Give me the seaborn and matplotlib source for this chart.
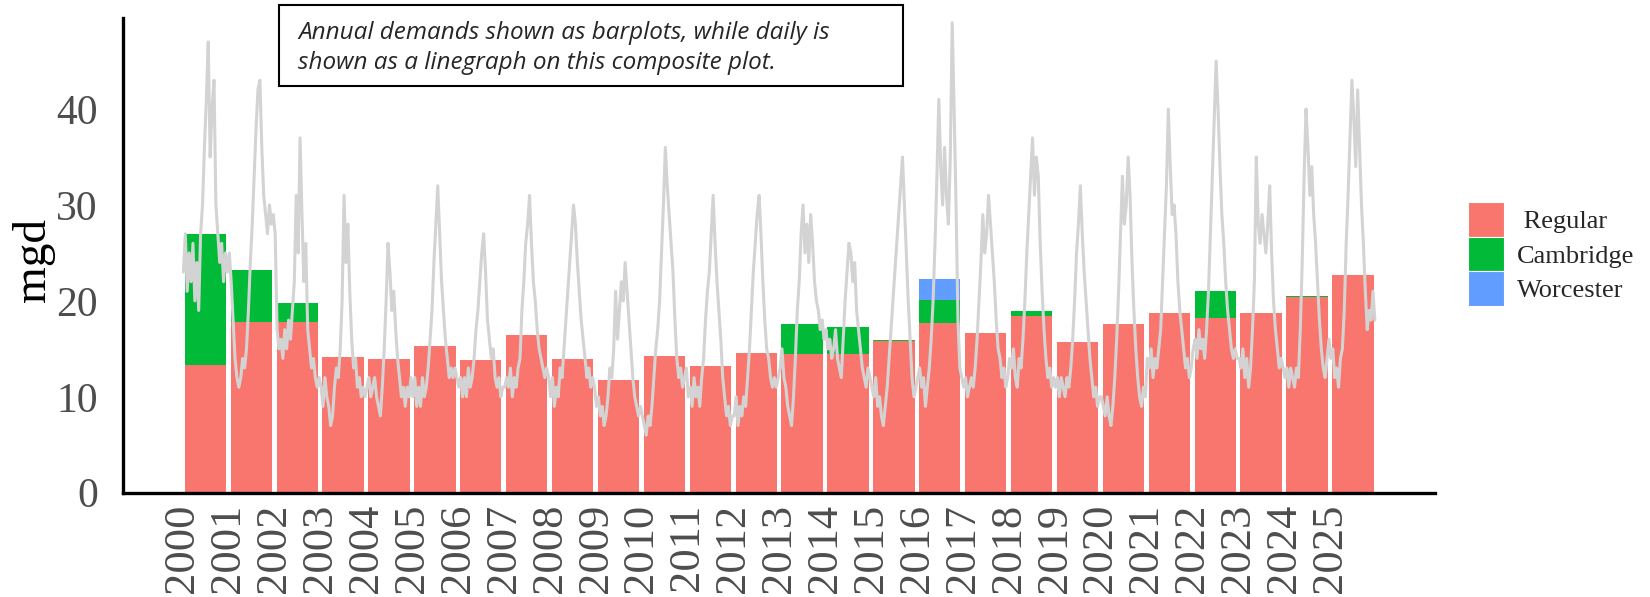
import matplotlib
matplotlib.use("Agg")
import matplotlib.pyplot as plt
import numpy as np
import pandas as pd
import seaborn as sns
from matplotlib.patches import Patch, Rectangle

# --annual demands (mgd), stacked by source
years = list(range(2000, 2026))
regular = [13.3, 17.8, 17.8, 14.1, 13.9, 15.3, 13.8, 16.4, 13.9, 11.8, 14.3, 13.2, 14.6,
           14.5, 14.5, 15.8, 17.7, 16.6, 18.4, 15.75, 17.55, 18.7, 18.25, 18.7, 20.4, 22.7]
cambridge = [13.7, 5.4, 1.95, 0, 0, 0, 0, 0, 0, 0, 0, 0, 0,
             3.05, 2.75, 0.1, 2.35, 0, 0.5, 0, 0, 0, 2.8, 0, 0.15, 0]
worcester = [0, 0, 0, 0, 0, 0, 0, 0, 0, 0, 0, 0, 0,
             0, 0, 0, 2.2, 0, 0, 0, 0, 0, 0, 0, 0, 0]
sources = [" Regular", "Cambridge", "Worcester"]

# --daily demand (mgd), 24 readings per year
d2000 = [23, 27, 21, 25, 22, 26, 20, 24, 19, 27, 30, 36, 41, 47, 35, 40, 43, 30, 27, 24, 26, 22, 25, 23]
d2001 = [25, 22, 18, 14, 12, 11, 12, 14, 13, 15, 19, 24, 28, 33, 38, 42, 43, 36, 31, 29, 27, 30, 28, 29]
d2002 = [27, 17, 15, 16, 14, 17, 15, 18, 16, 19, 22, 31, 25, 37, 29, 22, 26, 17, 15, 13, 14, 12, 11, 12]
d2003 = [11, 9, 12, 10, 9, 7, 8, 11, 13, 12, 15, 20, 31, 24, 28, 21, 16, 13, 14, 11, 12, 10, 11, 10]
d2004 = [11, 12, 10, 11, 12, 10, 9, 8, 11, 15, 20, 26, 23, 19, 21, 17, 14, 12, 10, 11, 9, 11, 10, 12]
d2005 = [10, 12, 9, 11, 9, 12, 10, 11, 13, 16, 19, 24, 28, 32, 27, 22, 19, 16, 14, 12, 13, 12, 13, 12]
d2006 = [11, 12, 10, 12, 10, 13, 11, 12, 14, 17, 19, 22, 25, 27, 23, 18, 16, 14, 15, 12, 11, 12, 10, 11]
d2007 = [11, 12, 11, 13, 10, 12, 11, 13, 14, 19, 22, 26, 28, 31, 26, 22, 20, 17, 15, 14, 13, 12, 13, 12]
d2008 = [10, 12, 9, 11, 10, 13, 12, 15, 18, 21, 24, 27, 30, 28, 24, 21, 18, 16, 14, 12, 13, 11, 12, 11]
d2009 = [9, 10, 8, 9, 7, 8, 10, 13, 12, 15, 21, 16, 19, 22, 20, 24, 21, 18, 15, 12, 10, 9, 8, 9]
d2010 = [8, 7, 6, 8, 7, 9, 12, 15, 17, 20, 25, 30, 36, 32, 29, 26, 23, 18, 14, 12, 13, 11, 12, 13]
d2011 = [10, 11, 9, 12, 10, 11, 9, 12, 14, 18, 21, 23, 27, 31, 26, 22, 19, 16, 12, 10, 8, 9, 7, 8]
d2012 = [8, 10, 7, 9, 8, 10, 9, 12, 15, 19, 23, 26, 29, 31, 27, 22, 18, 15, 14, 12, 11, 12, 11, 12]
d2013 = [13, 15, 12, 11, 9, 8, 7, 10, 14, 19, 22, 27, 30, 25, 28, 24, 29, 26, 22, 20, 19, 17, 18, 16]
d2014 = [17, 15, 16, 14, 15, 17, 14, 13, 12, 16, 20, 23, 26, 25, 22, 24, 19, 17, 15, 13, 12, 11, 13, 12]
d2015 = [11, 10, 12, 9, 10, 8, 7, 9, 11, 14, 17, 20, 23, 26, 29, 32, 35, 30, 25, 20, 16, 12, 10, 11]
d2016 = [12, 13, 11, 12, 9, 11, 13, 16, 20, 26, 33, 41, 34, 30, 36, 31, 28, 35, 49, 40, 30, 18, 13, 12]
d2017 = [11, 12, 10, 11, 12, 11, 13, 16, 20, 24, 29, 25, 27, 31, 28, 25, 22, 18, 15, 14, 12, 13, 11, 12]
d2018 = [14, 13, 15, 12, 11, 14, 13, 16, 20, 25, 29, 33, 37, 31, 35, 33, 26, 21, 17, 14, 12, 13, 11, 12]
d2019 = [11, 12, 10, 12, 11, 10, 12, 11, 13, 16, 20, 25, 28, 32, 27, 23, 20, 17, 14, 12, 10, 11, 9, 10]
d2020 = [10, 9, 8, 10, 8, 7, 9, 12, 16, 21, 27, 33, 28, 30, 35, 31, 24, 19, 15, 12, 10, 9, 11, 10]
d2021 = [14, 13, 15, 12, 14, 13, 15, 17, 22, 27, 32, 40, 34, 29, 30, 27, 22, 19, 17, 15, 13, 14, 12, 13]
d2022 = [15, 16, 14, 17, 15, 16, 14, 17, 21, 27, 33, 39, 45, 40, 34, 29, 26, 22, 19, 17, 15, 14, 15, 14]
d2023 = [14, 13, 15, 12, 14, 11, 13, 17, 22, 35, 28, 26, 29, 27, 25, 28, 32, 25, 20, 17, 15, 13, 14, 13]
d2024 = [12, 13, 11, 13, 12, 11, 13, 12, 17, 24, 33, 40, 36, 31, 34, 29, 26, 22, 18, 15, 13, 12, 14, 16]
d2025 = [14, 15, 12, 13, 11, 14, 15, 19, 26, 31, 37, 43, 39, 34, 42, 36, 30, 26, 21, 17, 19, 18, 21, 18]
daily_by_year = [d2000, d2001, d2002, d2003, d2004, d2005, d2006, d2007, d2008, d2009,
                 d2010, d2011, d2012, d2013, d2014, d2015, d2016, d2017, d2018, d2019,
                 d2020, d2021, d2022, d2023, d2024, d2025]

COLORS = ["#F8766D", "#00BA38", "#619CFF"]
TICK_GREY = "#4D4D4D"

sns.set_theme(style="white")
plt.rcParams['font.family'] = ['Liberation Serif', 'DejaVu Serif']

# --build the daily frame (sample times spread evenly through each year)
rows = []
for year, values in zip(years, daily_by_year):
    n = len(values)
    for i, v in enumerate(values):
        rows.append({"t": year + (i + 0.5) / n, "mgd": v})
df_daily = pd.DataFrame(rows)

fig = plt.figure(figsize=(16.5, 5.97), dpi=100)
ax = fig.add_axes([0.0744, 0.1747, 0.7956, 0.7953])

centers = np.array(years) + 0.5
base = np.zeros(len(years))
for values, color in zip([regular, cambridge, worcester], COLORS):
    ax.bar(centers, values, bottom=base, width=0.9, color=color, linewidth=0, zorder=1)
    base = base + np.array(values)

sns.lineplot(data=df_daily, x="t", y="mgd", color="#D3D3D3", linewidth=2.2,
             estimator=None, sort=False, ax=ax, zorder=2)

ax.set_xlim(1998.7, 2027.3)
ax.set_ylim(0, 49.5)
ax.set_xticks(years)
ax.set_xticklabels([str(y) for y in years], rotation=90, fontsize=32, color=TICK_GREY)
ax.set_yticks([0, 10, 20, 30, 40])
ax.set_yticklabels(["0", "10", "20", "30", "40"], fontsize=30, color=TICK_GREY)
ax.tick_params(axis="both", length=4, width=1, color="#333333")
ax.tick_params(axis="x", pad=4)
ax.tick_params(axis="y", pad=14)
ax.set_xlabel("")
ax.set_ylabel("mgd", fontsize=34, color="black", va="center")
ax.yaxis.set_label_coords(-0.068, 0.49)

for side in ["top", "right"]:
    ax.spines[side].set_visible(False)
for side in ["left", "bottom"]:
    ax.spines[side].set_color("black")
    ax.spines[side].set_linewidth(2.4)

handles = [Patch(facecolor=c, edgecolor="white", linewidth=0.8) for c in COLORS]
fig.legend(handles, sources, loc="center left", bbox_to_anchor=(1468 / 1650, 1 - 254 / 597),
           frameon=False, fontsize=19, handlelength=1.35, handleheight=1.65,
           handletextpad=0.5, labelspacing=0.0, borderpad=0, borderaxespad=0)

# --annotation box
fig.patches.append(Rectangle((279 / 1650, 1 - 86 / 597), (903 - 279) / 1650, 81 / 597,
                             transform=fig.transFigure, facecolor="white",
                             edgecolor="black", linewidth=1.5, zorder=5))
fig.text(298 / 1650, 1 - 48 / 597,
         "Annual demands shown as barplots, while daily is\nshown as a linegraph on this composite plot.",
         family=["Open Sans", "DejaVu Sans"], fontstyle="italic", fontsize=17.5,
         ha="left", va="center", linespacing=1.35, zorder=6)

fig.savefig("out.png", dpi=100)
